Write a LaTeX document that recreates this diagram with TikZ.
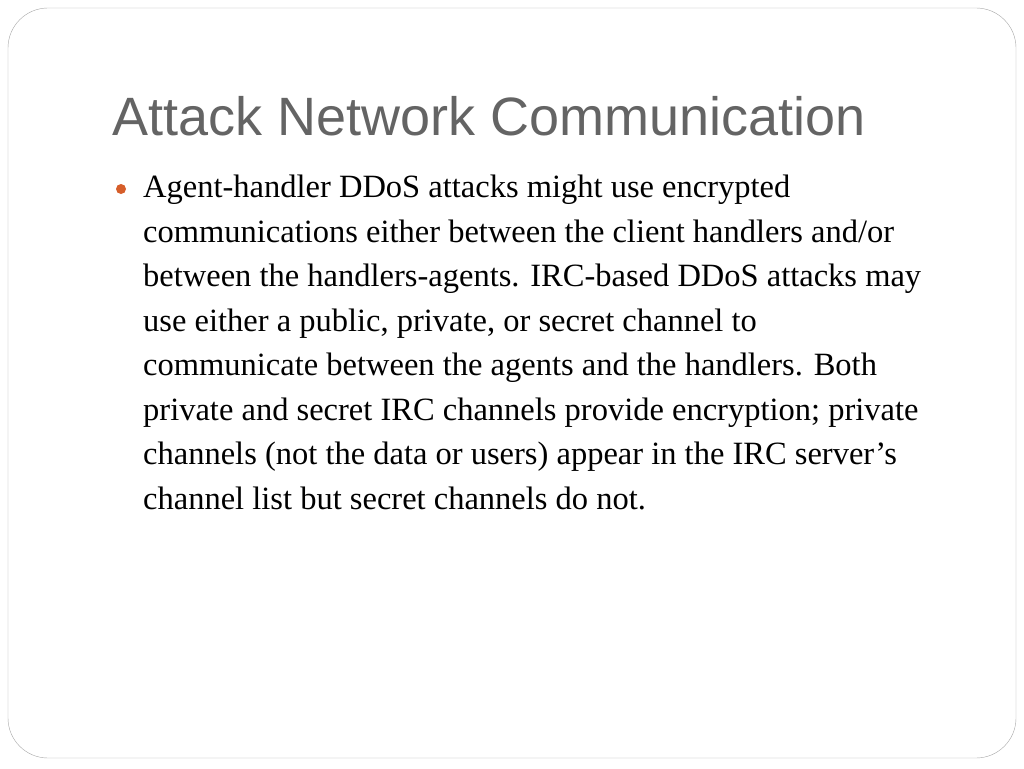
\documentclass[tikz,border=0pt]{standalone}
\usepackage{fontspec}
\setmainfont{Liberation Serif}
\newfontfamily\titlefont{Liberation Sans}
\definecolor{titlegray}{RGB}{100,100,100}
\definecolor{bulletorange}{RGB}{214,94,42}
\begin{document}
\begin{tikzpicture}[x=1pt,y=-1pt,
  slidetitle/.style={anchor=base west,inner sep=0pt,font=\titlefont\fontsize{54}{60}\selectfont,text=titlegray},
  bodytext/.style={anchor=north west,inner sep=0pt,align=left,font=\fontsize{32.5}{44.5}\selectfont}]
  % Slide background and frame
  \useasboundingbox (0,0) rectangle (1024,768);
  \draw[gray!70,rounded corners=40pt] (8,8) rectangle (1016,758);
  % Title
  \node[slidetitle] (title) at (112,135) {Attack Network Communication};
  % Bullet and paragraph
  \fill[bulletorange] (121,189) circle (5);
  \node[bodytext] (para) at (143,175) {Agent-handler DDoS attacks might use encrypted\\
    communications either between the client handlers and/or\\
    between the handlers-agents. IRC-based DDoS attacks may\\
    use either a public, private, or secret channel to\\
    communicate between the agents and the handlers. Both\\
    private and secret IRC channels provide encryption; private\\
    channels (not the data or users) appear in the IRC server’s\\
    channel list but secret channels do not.};
\end{tikzpicture}
\end{document}
